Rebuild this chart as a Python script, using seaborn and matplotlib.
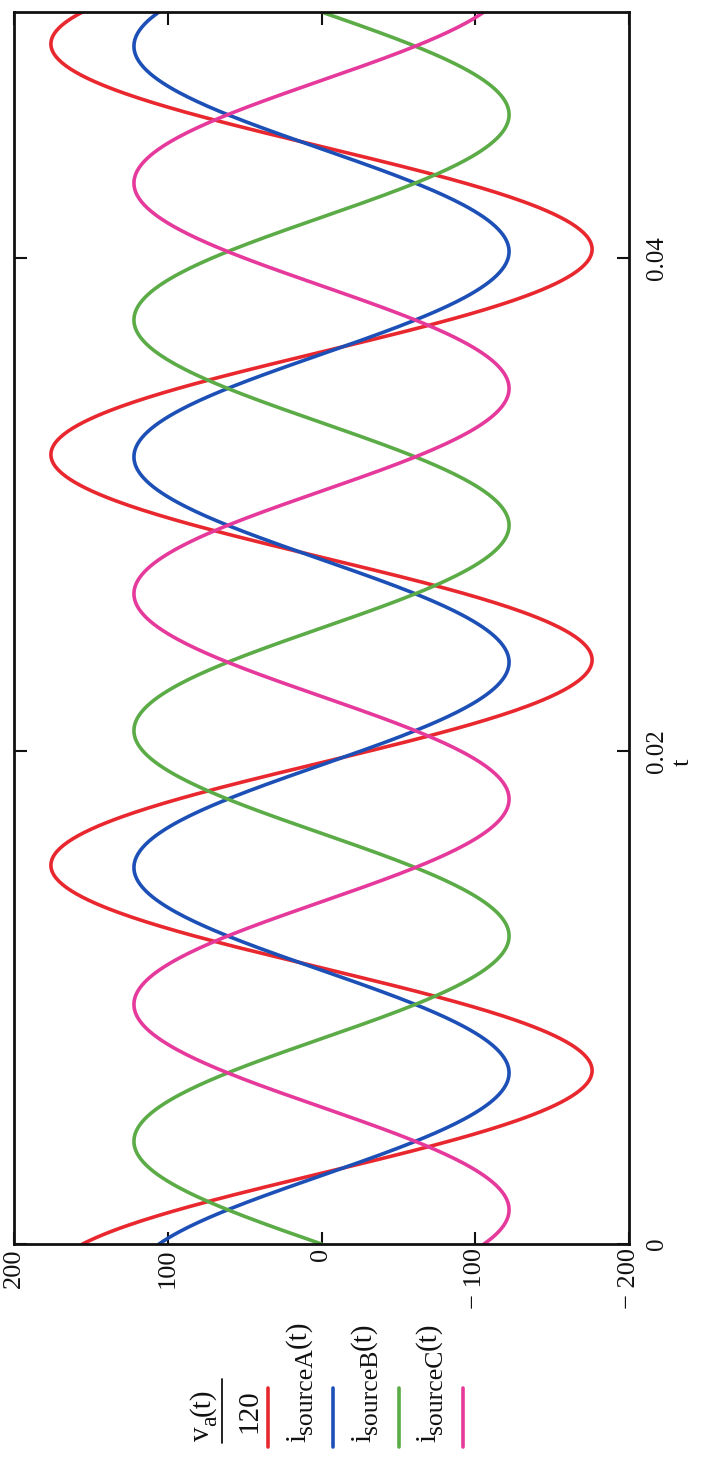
import numpy as np
import pandas as pd
import matplotlib
matplotlib.use("Agg")
import matplotlib.pyplot as plt
from matplotlib.lines import Line2D
import seaborn as sns

# Three-phase source waveforms (60 Hz): peak amplitude and sine phase angle
series_names = ["va/120", "iA", "iB", "iC"]
amplitudes = [176.0, 122.0, 122.0, 122.0]
phase_deg = [118.0, 120.0, 0.0, -120.0]
frequency_hz = 60.0
t_start, t_stop = 0.0, 0.05

value_ticks = [200, 100, 0, -100, -200]
value_tick_labels = ["200", "100", "0", "\u2212 100", "\u2212 200"]
t_ticks = [0.0, 0.02, 0.04]
t_tick_labels = ["0", "0.02", "0.04"]

# Legend entries as (main, subscript, suffix) pieces
legend_pieces = [
    ("v", "a", "(t)"),
    ("i", "sourceA", "(t)"),
    ("i", "sourceB", "(t)"),
    ("i", "sourceC", "(t)"),
]
fraction_denominator = "120"
colors = ["#e8282e", "#1d50b6", "#5bab47", "#e53a9c"]

sns.set_theme(style="white")
plt.rcParams["font.family"] = ["Liberation Serif", "DejaVu Serif"]

t = np.linspace(t_start, t_stop, 800)
frames = []
for name, amp, ph in zip(series_names, amplitudes, phase_deg):
    frames.append(pd.DataFrame({
        "t": t,
        "value": amp * np.sin(2 * np.pi * frequency_hz * t + np.deg2rad(ph)),
        "series": name,
    }))
df = pd.concat(frames, ignore_index=True)

W, H = 719, 1458
fig = plt.figure(figsize=(W / 100, H / 100), dpi=100)
fig.patch.set_facecolor("white")
ax_left, ax_right, ax_top, ax_bottom = 14, 629, 12, 1244
ax = fig.add_axes([ax_left / W, 1 - ax_bottom / H,
                   (ax_right - ax_left) / W, (ax_bottom - ax_top) / H])

# Time runs upward, values run right-to-left
sns.lineplot(data=df, x="value", y="t", hue="series", orient="y",
             estimator=None, sort=False, palette=dict(zip(series_names, colors)),
             linewidth=2.6, legend=False, ax=ax)

ax.set_xlim(200, -200)
ax.set_ylim(t_start, t_stop)
ax.set_xlabel("")
ax.set_ylabel("")

ax.set_xticks(value_ticks)
ax.set_xticklabels(value_tick_labels, rotation=90, fontsize=19, va="top", ha="center")
ax.set_yticks(t_ticks)
ax.yaxis.tick_right()
ax.set_yticklabels(t_tick_labels, rotation=90, fontsize=18, va="center")

ax.tick_params(axis="both", which="both", direction="in", length=9, width=1.5,
               colors="#111111", top=True, bottom=True, left=True, right=True,
               labelleft=False, labelright=True, labeltop=False, labelbottom=True)
ax.tick_params(axis="x", pad=3)
ax.tick_params(axis="y", pad=12)
for s in ax.spines.values():
    s.set_visible(True)
    s.set_linewidth(2.0)
    s.set_color("#111111")

fig.text(683 / W, 1 - 762 / H, "t", rotation=90, fontsize=19,
         ha="center", va="center", color="#111111")

renderer = fig.canvas.get_renderer()


def rotated_run(x_base, y_start, runs):
    """Write text pieces reading bottom-to-top; each run is (text, size, shift_px)."""
    y = y_start
    for text, size, shift in runs:
        txt = fig.text((x_base + shift) / W, 1 - y / H, text, rotation=90,
                       fontsize=size, ha="left", va="baseline",
                       rotation_mode="anchor", color="#111111")
        y -= txt.get_window_extent(renderer).height
    return y_start - y


# Rotated legend: labels read bottom-to-top with a short colored key beside each
label_base_x = [209, 305, 370, 435]
key_x = [268, 333, 399, 463]
for i, ((main, sub, suffix), col) in enumerate(zip(legend_pieces, colors)):
    if i == 0:
        size_main, size_sub = 21, 17
        num_len = rotated_run(label_base_x[i], 1441,
                              [(main, size_main, 0), (sub, size_sub, 7),
                               (suffix, size_main, 0)])
        fig.add_artist(Line2D([222 / W, 222 / W], [1 - 1443 / H, 1 - 1379 / H],
                              transform=fig.transFigure, color="#111111",
                              linewidth=1.3))
        fig.text(256 / W, 1 - 1411 / H, fraction_denominator, rotation=90,
                 fontsize=size_main, ha="center", va="baseline",
                 rotation_mode="anchor", color="#111111")
    else:
        rotated_run(label_base_x[i], 1442,
                    [(main, 21, 0), (sub, 18.5, 7), (suffix, 21, 0)])
    fig.add_artist(Line2D([key_x[i] / W, key_x[i] / W],
                          [1 - 1447 / H, 1 - 1388 / H],
                          transform=fig.transFigure, color=col, linewidth=2.6))

fig.savefig("out.png", dpi=100, facecolor="white")
